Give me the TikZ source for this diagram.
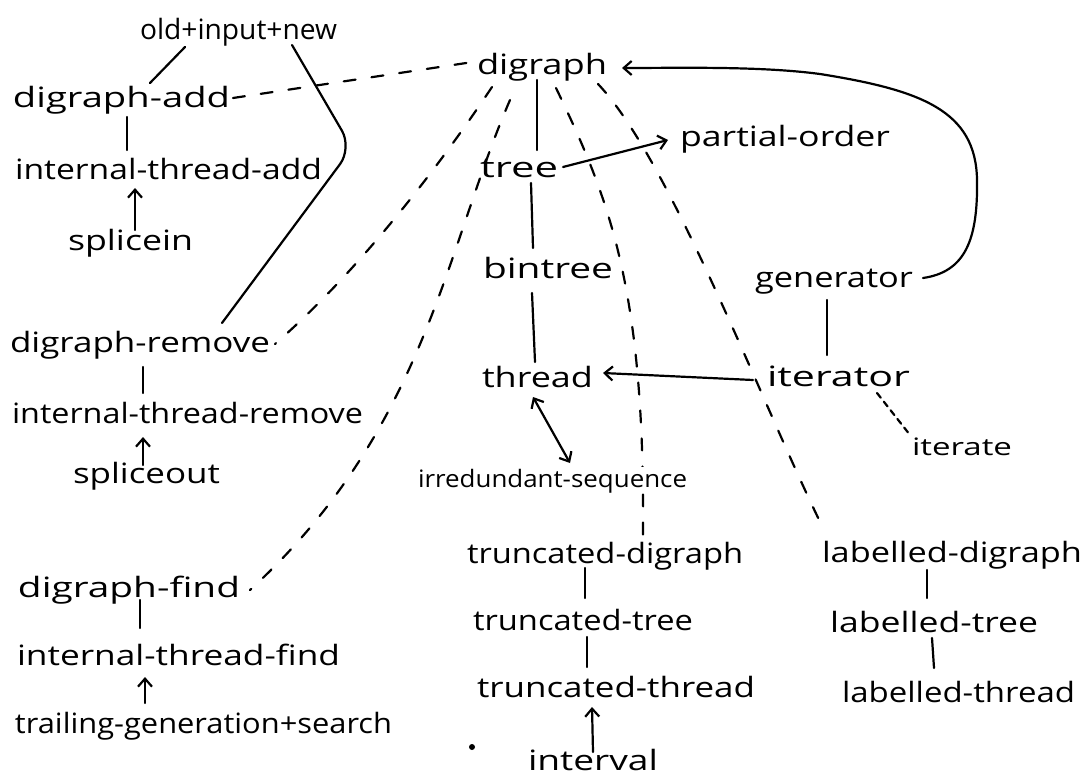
\documentclass[tikz,border=0pt]{standalone}
\usepackage{fontspec}
\setmainfont{Open Sans}
\usepackage{graphicx}
\usetikzlibrary{arrows.meta,calc}
\pgfdeclarelayer{back}
\pgfsetlayers{back,main}
% set a label at a fixed width, keeping its natural height
\newcommand\fitw[2]{\resizebox{#1pt}{\height}{#2}}

\begin{document}
\begin{tikzpicture}[x=0.5pt,y=-0.5pt,
  lbl/.style={anchor=base west, inner sep=0pt, outer sep=0pt,
    text height=10pt, text depth=3pt, font=\fontsize{14}{16}\selectfont},
  lblsmall/.style={lbl, font=\fontsize{12}{14}\selectfont},
  pen/.style={line width=1.1pt, line cap=round, line join=round},
  tip/.style={-{Straight Barb[length=4pt,width=7pt]}},
  both/.style={{Straight Barb[length=4pt,width=7pt]}-{Straight Barb[length=4pt,width=7pt]}},
  ldash/.style={pen, dash pattern=on 6pt off 8pt},
  fdash/.style={pen, dash pattern=on 3pt off 2.5pt},
]
\useasboundingbox (0,0) rectangle (1085,775);

% left column: the digraph operations
\node[lbl] (oldinput)  at (140,40)  {\fitw{98.5}{old+input+new}};
\node[lbl] (dadd)      at (13,108)  {\fitw{108.5}{digraph-add}};
\node[lbl] (itadd)     at (15,180)  {\fitw{153.5}{internal-thread-add}};
\node[lbl] (splicein)  at (68,250)  {\fitw{62.5}{splicein}};
\node[lbl] (dremove)   at (10,352)  {\fitw{130}{digraph-remove}};
\node[lbl] (itremove)  at (12,423)  {\fitw{175.5}{internal-thread-remove}};
\node[lbl] (spliceout) at (73,483)  {\fitw{73.5}{spliceout}};
\node[lbl] (dfind)     at (18,597)  {\fitw{111}{digraph-find}};
\node[lbl] (itfind)    at (17,665)  {\fitw{161.5}{internal-thread-find}};
\node[lbl] (trailing)  at (15,733)  {\fitw{188.5}{trailing-generation+search}};

% middle and right: the type hierarchy
\node[lbl] (digraph)   at (477,75)  {\fitw{65}{digraph}};
\node[lbl] (tree)      at (480,177) {\fitw{39}{tree}};
\node[lbl] (partial)   at (680,147) {\fitw{105}{partial-order}};
\node[lbl] (bintree)   at (483,278) {\fitw{65}{bintree}};
\node[lbl] (generator) at (755,287) {\fitw{79}{generator}};
\node[lbl] (thread)    at (482,387) {\fitw{55.5}{thread}};
\node[lbl] (iterator)  at (767,386) {\fitw{71.5}{iterator}};
\node[lblsmall] (iterate) at (912,455) {\fitw{50}{iterate}};
\node[lblsmall, fill=white] (irred) at (418,487) {\fitw{134.5}{irredundant-sequence}};
\node[lbl] (tdigraph)  at (467,563) {\fitw{138}{truncated-digraph}};
\node[lbl] (ttree)     at (473,630) {\fitw{110}{truncated-tree}};
\node[lbl] (tthread)   at (477,697) {\fitw{139}{truncated-thread}};
\node[lbl] (interval)  at (528,770) {\fitw{65}{interval}};
\node[lbl] (ldigraph)  at (822,562) {\fitw{130}{labelled-digraph}};
\node[lbl] (ltree)     at (830,632) {\fitw{104}{labelled-tree}};
\node[lbl] (lthread)   at (842,702) {\fitw{116.5}{labelled-thread}};

% solid links
\draw[pen] ($(oldinput.base west)+(45,7)$) -- ($(dadd.base west)+(137,-25)$);
\draw[pen, rounded corners=10pt] ($(oldinput.base west)+(152,5)$) -- (352,148)
  -- ($(dremove.base west)+(212,-29)$);
\draw[pen] ($(dadd.base west)+(114,9)$) -- ($(itadd.base west)+(112,-30)$);
\draw[pen,tip] ($(splicein.base west)+(67,-20)$) -- ($(itadd.base west)+(120,8)$);
\draw[pen] ($(dremove.base west)+(133,15)$) -- ($(itremove.base west)+(131,-30)$);
\draw[pen,tip] ($(spliceout.base west)+(70,-18)$) -- ($(itremove.base west)+(131,14)$);
\draw[pen] ($(dfind.base west)+(122,3)$) -- ($(itfind.base west)+(123,-37)$);
\draw[pen,tip] ($(trailing.base west)+(130,-30)$) -- ($(itfind.base west)+(128,12)$);

\draw[pen] ($(digraph.base west)+(60,5)$) -- ($(tree.base west)+(57,-27)$);
\draw[pen] ($(tree.base west)+(51,6)$) -- ($(bintree.base west)+(50,-30)$);
\draw[pen] ($(bintree.base west)+(49,15)$) -- ($(thread.base west)+(53,-25)$);
\draw[pen,tip] ($(tree.base west)+(83,-10)$) -- ($(partial.base west)+(-12,-7)$);
\draw[pen,tip] ($(generator.base west)+(168,-9)$)
  .. controls (965,272) and (978,240) .. (977,180)
  .. controls (976,110) and (920,90) .. (820,74)
  .. controls (760,66) and (680,68) .. ($(digraph.base west)+(145,-7)$);
\draw[pen] ($(generator.base west)+(72,13)$) -- ($(iterator.base west)+(60,-31)$);
\draw[pen,tip] ($(iterator.base west)+(-14,-6)$) -- ($(thread.base west)+(121,-14)$);
\draw[pen,both] ($(thread.base west)+(51,10)$) -- ($(irred.base west)+(152,-24)$);
\draw[fdash] ($(iterator.base west)+(110,7)$) -- ($(iterate.base west)+(-2,-20)$);

\draw[pen] ($(tdigraph.base west)+(118,5)$) -- ($(ttree.base west)+(112,-32)$);
\draw[pen] ($(ttree.base west)+(114,7)$) -- ($(tthread.base west)+(110,-30)$);
\draw[pen,tip] ($(interval.base west)+(65,-18)$) -- ($(tthread.base west)+(115,10)$);
\draw[pen] ($(ldigraph.base west)+(105,8)$) -- ($(ltree.base west)+(97,-34)$);
\draw[pen] ($(ltree.base west)+(102,6)$) -- ($(lthread.base west)+(92,-34)$);

\fill (472,747) circle (3);

% dashed links out of digraph
\begin{pgfonlayer}{back}
\draw[ldash] ($(dadd.base west)+(220,-10)$) -- ($(digraph.base west)+(-4,-13)$);
\draw[ldash] ($(digraph.base west)+(15,12)$) .. controls (440,165) and (360,270)
  .. ($(dremove.base west)+(265,-8)$);
\draw[ldash] ($(digraph.base west)+(33,25)$) .. controls (445,250) and (425,430)
  .. ($(dfind.base west)+(232,-7)$);
\draw[ldash] ($(digraph.base west)+(79,13)$) .. controls (610,200) and (645,290)
  .. ($(tdigraph.base west)+(176,-28)$);
\draw[ldash] ($(digraph.base west)+(121,9)$) .. controls (670,160) and (760,400)
  .. ($(ldigraph.base west)+(2,-32)$);
\end{pgfonlayer}
\end{tikzpicture}
\end{document}
